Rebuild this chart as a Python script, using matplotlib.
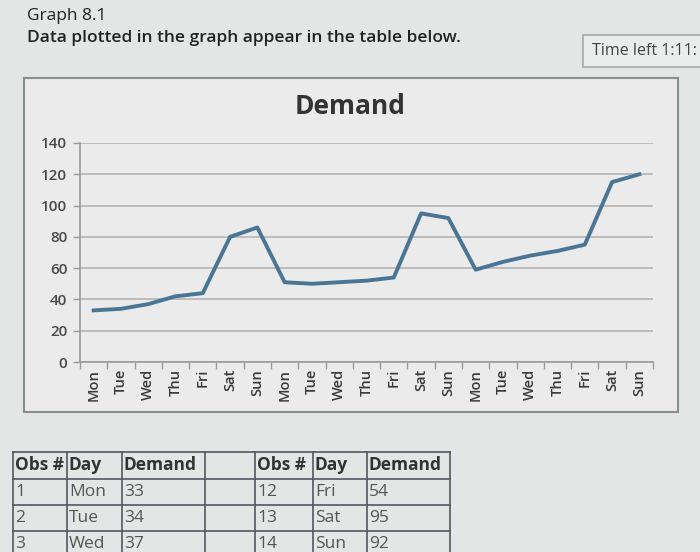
import matplotlib
matplotlib.use("Agg")
import matplotlib.pyplot as plt
import numpy as np
from matplotlib.patches import Rectangle
from matplotlib.lines import Line2D

# ---- data ----
days = ["Mon", "Tue", "Wed", "Thu", "Fri", "Sat", "Sun"] * 3
demand = [33, 34, 37, 42, 44, 80, 86, 51, 50, 51, 52, 54, 95, 92,
          59, 64, 68, 71, 75, 115, 120]
obs = list(range(1, 22))
y_ticks = [0, 20, 40, 60, 80, 100, 120, 140]
chart_title = "Demand"
header1 = "Graph 8.1"
header2 = "Data plotted in the graph appear in the table below."
timer_text = "Time left 1:11:"
table_cols = ["Obs #", "Day", "Demand"]

plt.rcParams['font.family'] = ['Open Sans', 'DejaVu Sans']

W, H = 700, 552
fig = plt.figure(figsize=(7, 5.52), dpi=100)
fig.patch.set_facecolor('#e2e7e5')

def fx(x):
    return x / W

def fy(y):
    return 1 - y / H

# header texts
fig.text(fx(27), fy(16), header1, fontsize=12.5, color='#222222', va='center', ha='left')
fig.text(fx(27), fy(38), header2, fontsize=12.5, color='#222222', va='center', ha='left',
         weight='semibold')

# timer box
fig.patches.append(Rectangle((fx(583), fy(67)), (720 - 583) / W, (67 - 35) / H,
                             transform=fig.transFigure, facecolor='#e9edeb',
                             edgecolor='#a8a8a8', lw=1.2, zorder=0))
fig.text(fx(592), fy(51), timer_text, fontsize=11.5, color='#444444', va='center', ha='left')

# chart box
fig.patches.append(Rectangle((fx(24), fy(412)), (678 - 24) / W, (412 - 78) / H,
                             transform=fig.transFigure, facecolor='#ebebeb',
                             edgecolor='#8c8c8c', lw=1.5, zorder=0))
fig.text(fx(350), fy(107), chart_title, fontsize=19, weight='bold', color='#333333',
         ha='center', va='center')

ax = fig.add_axes([fx(80), fy(362), (653 - 80) / W, (362 - 143) / H])
ax.set_zorder(2)
ax.set_facecolor('none')
x = np.arange(len(demand))
ax.plot(x, demand, color='#4a7595', lw=2.8, zorder=3)
ax.set_xlim(-0.5, len(demand) - 0.5)
ax.set_ylim(0, 140)
ax.set_yticks(y_ticks)
ax.set_yticklabels([str(v) for v in y_ticks], fontsize=11, color='#4a4a4a',
                   weight='semibold')
ax.yaxis.grid(True, color='#b4b4b4', lw=1.2)
ax.set_axisbelow(True)
ax.set_xticks(x)
ax.set_xticklabels(days, rotation=90, fontsize=10.5, color='#3a3a3a', weight='semibold')
ax.set_xticks(np.arange(-0.5, len(demand) + 0.5, 1), minor=True)
ax.tick_params(axis='x', which='major', length=0, pad=5)
ax.tick_params(axis='x', which='minor', length=5, color='#9a9a9a', width=1)
ax.tick_params(axis='y', length=5, color='#9a9a9a', width=1, pad=4)
for s in ['top', 'right']:
    ax.spines[s].set_visible(False)
for s in ['left', 'bottom']:
    ax.spines[s].set_color('#9a9a9a')
    ax.spines[s].set_linewidth(1.2)

# table
col_x = [13, 67, 122, 205, 255, 313, 367, 450]
row_y = [452, 479, 505, 531, 560]
line_c = '#555560'
for xx in col_x:
    fig.lines.append(Line2D([fx(xx), fx(xx)], [fy(row_y[0]), fy(row_y[-1])],
                            transform=fig.transFigure, color=line_c, lw=1.2))
for yy in row_y:
    fig.lines.append(Line2D([fx(col_x[0]), fx(col_x[-1])], [fy(yy), fy(yy)],
                            transform=fig.transFigure, color=line_c, lw=1.2))

left_cols = [0, 1, 2]
right_cols = [4, 5, 6]
for cols in (left_cols, right_cols):
    for c, name in zip(cols, table_cols):
        fig.text(fx(col_x[c] + 2), fy((row_y[0] + row_y[1]) / 2), name, fontsize=12.5,
                 weight='bold', color='#333333', ha='left', va='center')

n_rows = len(row_y) - 2
for r in range(n_rows):
    yc = fy((row_y[r + 1] + row_y[r + 2]) / 2 - (2 if r == n_rows - 1 else 0))
    for cols, idx in ((left_cols, r), (right_cols, r + 11)):
        vals = [str(obs[idx]), days[idx], str(demand[idx])]
        for c, v in zip(cols, vals):
            fig.text(fx(col_x[c] + 2), yc, v, fontsize=12.5, color='#555555',
                     ha='left', va='center')

fig.savefig('out.png', dpi=100, facecolor=fig.get_facecolor())
